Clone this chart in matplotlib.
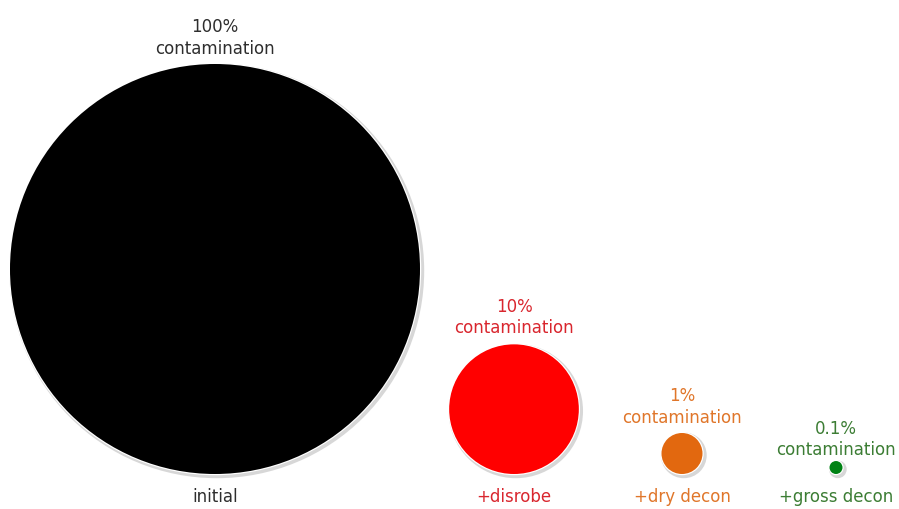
import matplotlib
matplotlib.use("Agg")
import matplotlib.pyplot as plt
from matplotlib.patches import Circle
import numpy as np

# data
stages = ["initial", "+disrobe", "+dry decon", "+gross decon"]
contamination = [100, 10, 1, 0.1]
value_labels = ["100%", "10%", "1%", "0.1%"]

# styling / layout
circle_colors = ["#000000", "#ff0000", "#e2680f", "#008214"]
text_colors = ["#2e2e2e", "#d9262e", "#e0762a", "#3c7d34"]
x_centers = [215, 514, 682, 836]
baseline_y = 475          # circle bottoms (pixel coords, y down)
max_radius = 205          # radius for 100%
label_gap = [7, 8, 7, 3]

W, H = 899, 510
fig = plt.figure(figsize=(W / 100, H / 100), dpi=100)
ax = fig.add_axes([0, 0, 1, 1])
ax.set_xlim(0, W)
ax.set_ylim(H, 0)
ax.set_aspect("equal")
ax.axis("off")

for i, (stage, val, lab, cc, tc, xc) in enumerate(zip(stages, contamination, value_labels,
                                        circle_colors, text_colors, x_centers)):
    r = max_radius * np.sqrt(val / 100.0)
    yc = baseline_y - r
    # soft shadow
    ax.add_patch(Circle((xc + 1.8, yc + 1.8), r + 2.4, facecolor="#bdbdbd",
                        edgecolor="none", alpha=0.6, zorder=1))
    ax.add_patch(Circle((xc, yc), r + 1.2, facecolor="white",
                        edgecolor="none", zorder=2))
    ax.add_patch(Circle((xc, yc), r, facecolor=cc, edgecolor="none", zorder=3))
    top = yc - r
    ax.text(xc, top - label_gap[i], f"{lab}\ncontamination", ha="center", va="bottom",
            fontsize=12, color=tc, linespacing=1.25, family="DejaVu Sans")
    ax.text(xc, 497, stage, ha="center", va="center", fontsize=12,
            color=tc, family="DejaVu Sans")

fig.savefig("out.png", dpi=100, facecolor="white")
